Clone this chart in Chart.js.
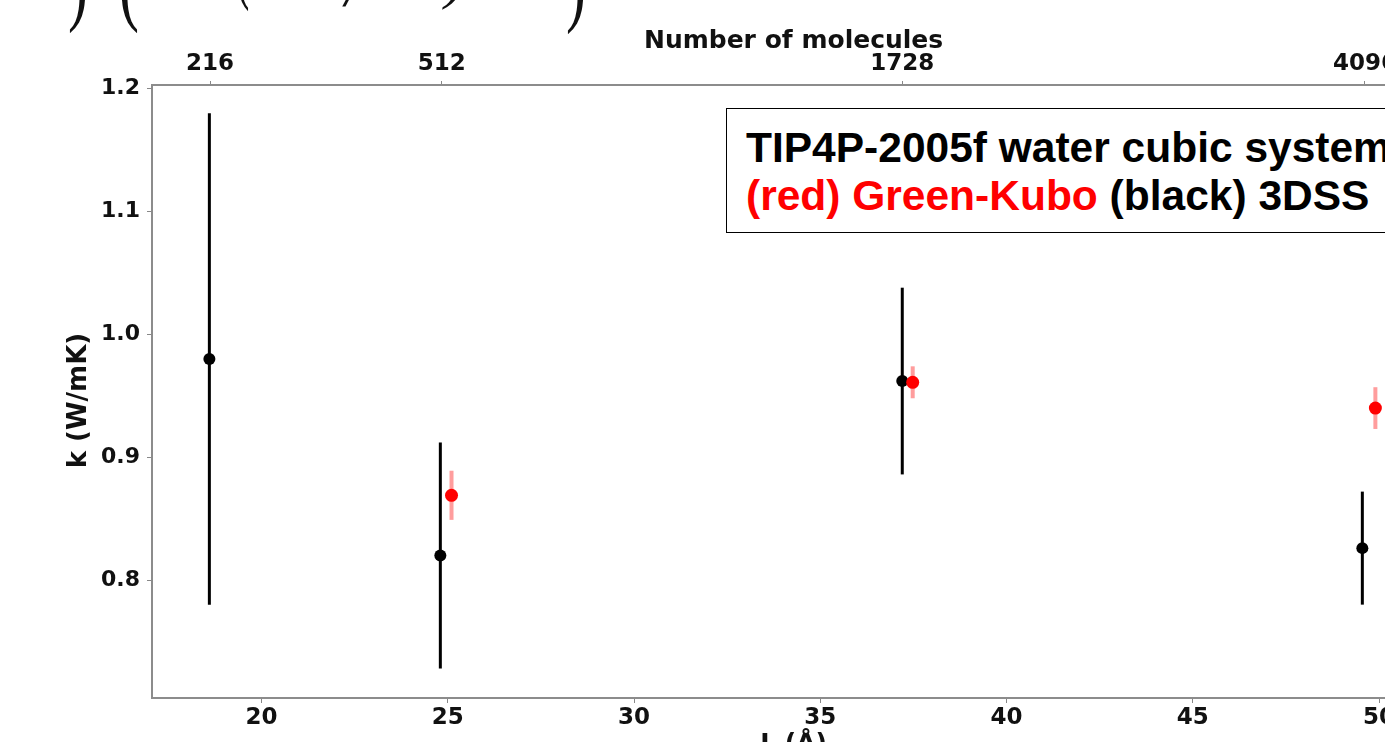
<!DOCTYPE html>
<html>
<head>
<meta charset="utf-8">
<script src="https://cdn.jsdelivr.net/npm/chart.js@4.4.1/dist/chart.umd.min.js"></script>
<style>
  html, body { margin: 0; padding: 0; background: #fff; overflow: hidden; }
  body { width: 1385px; height: 742px; position: relative; }
  #wrap { position: absolute; left: 0; top: 0; width: 1470px; height: 770px; }
  .eq {
    position: absolute; font-family: "Liberation Serif", serif; color: #111;
    line-height: 1; white-space: nowrap; transform-origin: 0 0;
  }
  #note {
    position: absolute; left: 726px; top: 108px; width: 720px; height: 125px;
    border: 1.5px solid #000; background: #fff; box-sizing: border-box;
    padding: 15px 0 0 19px; white-space: nowrap;
    font-family: "Liberation Sans", Arial, sans-serif; font-weight: bold;
    font-size: 42.5px; line-height: 48px; color: #000;
  }
  #note .red { color: #ff0000; }
</style>
</head>
<body>
<!-- bits of the equation cut off above the figure -->
<span class="eq" style="left:68px; top:-67px; font-size:60px; transform:scaleY(1.6);">)</span>
<span class="eq" style="left:119px; top:-67px; font-size:60px; transform:scaleY(1.6);">(</span>
<span class="eq" style="left:236px; top:-72px; font-size:40px; transform:scaleY(2);">(</span>
<span class="eq" style="left:345px; top:-44px; font-size:60px; font-style:italic;">/</span>
<span class="eq" style="left:415px; top:-53px; font-size:60px; font-style:italic;">b)</span>
<span class="eq" style="left:566px; top:-66px; font-size:60px; transform:scaleY(1.6);">)</span>

<div id="wrap"><canvas id="chart"></canvas></div>

<div id="note">TIP4P-2005f water cubic system<br><span class="red">(red) Green-Kubo</span> (black) 3DSS</div>

<script>
// 3DSS (black)
const blackX = [18.6, 24.8, 37.2, 49.55];
const blackY = [0.980, 0.820, 0.962, 0.826];
const blackErr = [0.200, 0.092, 0.076, 0.046];

// Green-Kubo (red)
const redX = [25.1, 37.48, 49.9];
const redY = [0.869, 0.961, 0.940];
const redErr = [0.020, 0.013, 0.017];

// axis ticks
const bottomTicks = [20, 25, 30, 35, 40, 45, 50];
const yTicks = [0.8, 0.9, 1.0, 1.1, 1.2];
const topTickL = [18.62, 24.84, 37.2, 49.62];
const topTickN = [216, 512, 1728, 4096];

const xMin = 17.06, xMax = 52.44;
const yMin = 0.704, yMax = 1.203;

Chart.defaults.font.family = '"DejaVu Sans", sans-serif';
Chart.defaults.font.weight = 'bold';
Chart.defaults.color = '#111';

// vertical error bars, drawn under the markers
const errorBars = {
    id: 'errorBars',
    beforeDatasetsDraw(chart) {
        const { ctx, scales: { x, y } } = chart;
        chart.data.datasets.forEach(ds => {
            ctx.save();
            ctx.strokeStyle = ds.errColor;
            ctx.lineWidth = ds.errWidth;
            ds.data.forEach(p => {
                const px = x.getPixelForValue(p.x);
                ctx.beginPath();
                ctx.moveTo(px, y.getPixelForValue(p.y - p.e));
                ctx.lineTo(px, y.getPixelForValue(p.y + p.e));
                ctx.stroke();
            });
            ctx.restore();
        });
    }
};

const toPoints = (xs, ys, es) => xs.map((v, i) => ({ x: v, y: ys[i], e: es[i] }));

const tickFont = { size: 23, weight: 'bold' };
const titleFont = { size: 25, weight: 'bold' };
const gridOpts = { drawOnChartArea: false, drawTicks: true, tickLength: 5, color: '#888', lineWidth: 1 };
const borderOpts = { display: true, color: '#8c8c8c', width: 2 };
// the axis titles sit a little left of the axis middle in the original
const nb = n => '\u00A0'.repeat(n);

new Chart(document.getElementById('chart'), {
    type: 'scatter',
    data: {
        datasets: [
            {
                label: 'Green-Kubo',
                data: toPoints(redX, redY, redErr),
                backgroundColor: '#ff0000',
                borderColor: '#ff0000',
                pointRadius: 6.5,
                borderWidth: 0,
                errColor: 'rgba(255, 60, 60, 0.5)',
                errWidth: 4
            },
            {
                label: '3DSS',
                data: toPoints(blackX, blackY, blackErr),
                backgroundColor: '#000',
                borderColor: '#000',
                pointRadius: 6,
                borderWidth: 0,
                errColor: '#000',
                errWidth: 3
            }
        ]
    },
    options: {
        responsive: true,
        maintainAspectRatio: false,
        animation: false,
        layout: { padding: 0, autoPadding: false },
        plugins: { legend: { display: false }, tooltip: { enabled: false } },
        scales: {
            x: {
                type: 'linear', position: 'bottom', min: xMin, max: xMax,
                afterBuildTicks: s => { s.ticks = bottomTicks.map(v => ({ value: v })); },
                afterFit: s => { s.height = 72; },
                ticks: { font: tickFont, color: '#111', padding: 1, callback: v => String(v) },
                grid: gridOpts,
                border: borderOpts,
                title: { display: true, text: 'L (Å)' + nb(4), font: titleFont, color: '#111', padding: { top: 0, bottom: 11 } }
            },
            x2: {
                type: 'linear', position: 'top', min: xMin, max: xMax,
                afterBuildTicks: s => { s.ticks = topTickL.map(v => ({ value: v })); },
                afterFit: s => { s.height = 85; },
                ticks: { font: tickFont, color: '#111', padding: 3, callback: (v, i) => String(topTickN[i]) },
                grid: { ...gridOpts, tickLength: 4 },
                border: borderOpts,
                title: { display: true, text: 'Number of molecules' + nb(4), font: titleFont, color: '#111', padding: { top: 26, bottom: 0 } }
            },
            y: {
                type: 'linear', position: 'left', min: yMin, max: yMax,
                afterBuildTicks: s => { s.ticks = yTicks.map(v => ({ value: v })); },
                afterFit: s => { s.width = 152; },
                ticks: { font: { size: 22, weight: 'bold' }, color: '#111', padding: 7, callback: v => v.toFixed(1) },
                grid: gridOpts,
                border: borderOpts,
                title: { display: true, text: 'k (W/mK)' + nb(2), font: { size: 26, weight: 'bold' }, color: '#111', padding: { top: 64, bottom: 0 } }
            }
        }
    },
    plugins: [errorBars]
});
</script>
</body>
</html>
